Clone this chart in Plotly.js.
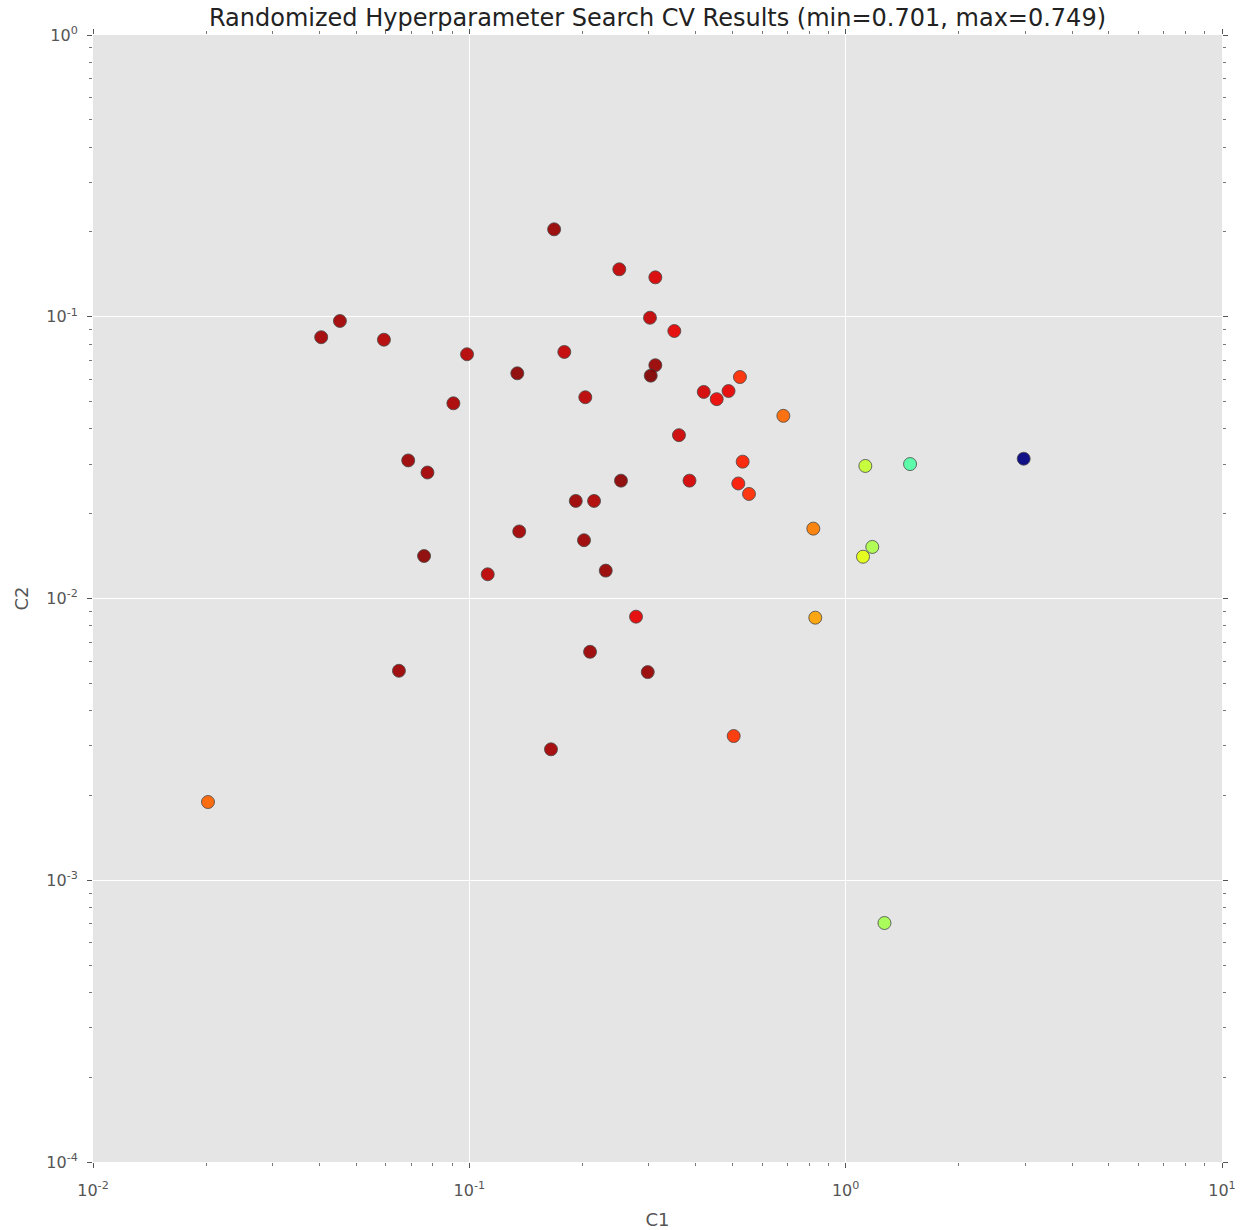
<!DOCTYPE html>
<html>
<head>
<meta charset="utf-8">
<script src="https://cdn.plot.ly/plotly-3.0.1.min.js"></script>
<style>html,body{margin:0;padding:0;background:#fff;}#chart{width:1246px;height:1230px;}</style>
</head>
<body>
<div id="chart"></div>
<script>
// Hyperparameter C1 values (x)
const c1Values = [0.168,0.2503,0.3121,0.302,0.3505,0.0404,0.0453,0.0593,0.0986,0.1788,
  0.1341,0.3121,0.3034,0.5237,0.0907,0.2033,0.4196,0.4543,0.4884,0.683,
  0.3606,0.0688,0.0774,0.5325,0.1918,0.2145,0.2529,0.3846,0.5184,0.5535,
  0.1357,0.2017,0.0758,0.1119,0.2304,0.8204,1.128,1.483,2.972,1.177,
  1.112,0.2773,0.8304,0.2093,0.065,0.2979,0.1648,0.504,0.02021,1.268];
// Hyperparameter C2 values (y)
const c2Values = [0.2043,0.1474,0.138,0.0992,0.089,0.0846,0.0966,0.0829,0.0736,0.075,
  0.063,0.0673,0.0618,0.0611,0.0493,0.0518,0.0541,0.051,0.0545,0.0445,
  0.038,0.0309,0.028,0.0306,0.0222,0.0222,0.0262,0.0262,0.0256,0.0235,
  0.0173,0.0161,0.01415,0.01219,0.01256,0.0177,0.02954,0.030,0.03134,0.01524,
  0.01407,0.00862,0.00855,0.00647,0.00554,0.00548,0.002916,0.00325,0.001895,0.000705];
// Mean CV scores (colour)
const cvScores = [0.748,0.7462,0.7452,0.7462,0.7447,0.7475,0.7475,0.7468,0.7468,0.7462,
  0.7485,0.748,0.749,0.7425,0.7472,0.7465,0.7455,0.7445,0.7447,0.7394,
  0.7458,0.7478,0.7475,0.7432,0.7478,0.747,0.7485,0.7455,0.7437,0.7425,
  0.7475,0.7478,0.7485,0.7465,0.748,0.7384,0.7293,0.7226,0.701,0.7279,
  0.7312,0.7447,0.7365,0.7478,0.7478,0.748,0.7475,0.7422,0.7397,0.7274];
const scoreMin = 0.701, scoreMax = 0.749;
const decadesX = [-2,-1,0,1];
const decadesY = [-4,-3,-2,-1,0];

// matplotlib "jet" colormap as a Plotly colorscale
function interp(pts, t){
  for (let i=0;i<pts.length-1;i++){
    const [t0,v0]=pts[i],[t1,v1]=pts[i+1];
    if (t>=t0 && t<=t1) return v0+(v1-v0)*(t-t0)/(t1-t0||1);
  }
  return pts[pts.length-1][1];
}
const R=[[0,0],[0.35,0],[0.66,1],[0.89,1],[1,0.5]];
const G=[[0,0],[0.125,0],[0.375,1],[0.64,1],[0.91,0],[1,0]];
const B=[[0,0.5],[0.11,1],[0.34,1],[0.65,0],[1,0]];
const jet=[];
for(let i=0;i<=100;i++){
  const t=i/100;
  jet.push([t,`rgb(${Math.round(255*interp(R,t))},${Math.round(255*interp(G,t))},${Math.round(255*interp(B,t))})`]);
}

function sup(n){ return '10<sup>'+n+'</sup>'; }
function minorVals(decs){
  const v=[];
  for(let k=0;k<decs.length-1;k++) for(let m=2;m<=9;m++) v.push(m*Math.pow(10,decs[k]));
  return v;
}

const trace = {
  type:'scatter', mode:'markers',
  x:c1Values, y:c2Values,
  marker:{
    color:cvScores, cmin:scoreMin, cmax:scoreMax, colorscale:jet, showscale:false,
    size:13, opacity:0.92,
    line:{color:'rgba(60,60,60,0.8)', width:1}
  },
  hoverinfo:'x+y'
};

const axisCommon = {
  type:'log', showline:false, zeroline:false,
  showgrid:true, gridcolor:'#ffffff', gridwidth:1,
  ticks:'outside', ticklen:5, tickcolor:'#555555', tickwidth:1,
  mirror:'ticks', tickmode:'array',
  tickfont:{family:'DejaVu Sans', size:16, color:'#555555'},
};

const layout = {
  width:1246, height:1230,
  margin:{l:93, r:24, t:35, b:68},
  paper_bgcolor:'#ffffff', plot_bgcolor:'#E5E5E5',
  showlegend:false,
  title:{text:'Randomized Hyperparameter Search CV Results (min=0.701, max=0.749)',
    font:{family:'DejaVu Sans', size:24, color:'#222222'},
    xref:'paper', x:0.5, xanchor:'center', yref:'container', y:1-18/1230, yanchor:'middle'},
  xaxis:Object.assign({}, axisCommon, {
    range:[-2,1],
    tickvals:decadesX.map(d=>Math.pow(10,d)), ticktext:decadesX.map(sup),
    ticklabelstandoff:9,
    minor:{tickmode:'array', tickvals:minorVals(decadesX), ticks:'outside', ticklen:3, tickcolor:'#777777', showgrid:false},
    title:{text:'C1', font:{family:'DejaVu Sans', size:18, color:'#555555'}, standoff:14}
  }),
  yaxis:Object.assign({}, axisCommon, {
    range:[-4,0],
    tickvals:decadesY.map(d=>Math.pow(10,d)), ticktext:decadesY.map(sup),
    ticklabelstandoff:6,
    minor:{tickmode:'array', tickvals:minorVals(decadesY), ticks:'outside', ticklen:3, tickcolor:'#777777', showgrid:false},
    title:{text:'C2', font:{family:'DejaVu Sans', size:18, color:'#555555'}, standoff:12}
  })
};

Plotly.newPlot('chart',[trace],layout,{displayModeBar:false,staticPlot:true});
</script>
</body>
</html>
